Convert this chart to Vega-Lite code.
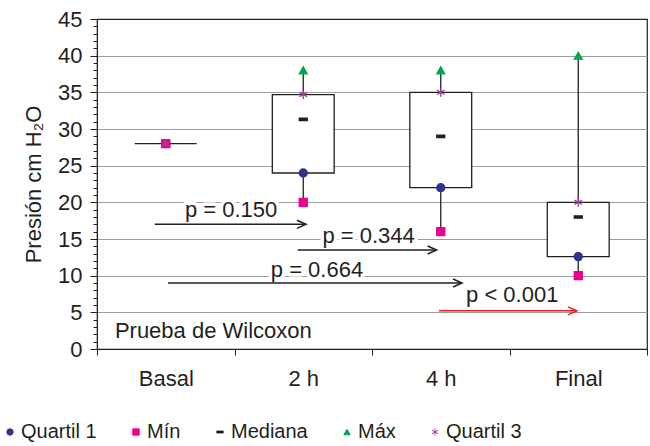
{
  "$schema": "https://vega.github.io/schema/vega-lite/v6.json",
  "width": 550,
  "height": 330,
  "autosize": {"type": "none"},
  "padding": {"left": 97, "top": 19, "right": 3, "bottom": 97},
  "background": "white",
  "datasets": {
    "stats": [
      {"cat": "Basal", "Mín": 28, "Quartil 1": 28, "Mediana": 28, "Quartil 3": 28, "Máx": 28},
      {"cat": "2 h", "Mín": 20, "Quartil 1": 24, "Mediana": 31.3, "Quartil 3": 34.7, "Máx": 38},
      {"cat": "4 h", "Mín": 16, "Quartil 1": 22, "Mediana": 29, "Quartil 3": 35, "Máx": 38},
      {"cat": "Final", "Mín": 10, "Quartil 1": 12.6, "Mediana": 18, "Quartil 3": 20, "Máx": 40}
    ],
    "tests": [
      {"label": "p = 0.150", "start": 0.42, "end": 1.52, "y": 17.0, "lx": 0.975, "ly": 18.0, "sig": "no"},
      {"label": "p = 0.344", "start": 1.46, "end": 2.47, "y": 13.5, "lx": 1.975, "ly": 14.4, "sig": "no"},
      {"label": "p = 0.664", "start": 0.516, "end": 2.655, "y": 9.0, "lx": 1.6, "ly": 9.8, "sig": "no"},
      {"label": "p < 0.001", "start": 2.487, "end": 3.49, "y": 5.2, "lx": 3.02, "ly": 6.45, "sig": "yes"}
    ],
    "note": [{"label": "Prueba de Wilcoxon", "lx": 0.13, "ly": 1.55}]
  },
  "config": {
    "font": "Liberation Sans",
    "view": {"stroke": "#231f20", "strokeWidth": 1.2},
    "axis": {
      "labelColor": "#231f20",
      "titleColor": "#231f20",
      "domainColor": "#231f20",
      "tickColor": "#231f20",
      "labelFont": "Liberation Sans",
      "titleFont": "Liberation Sans",
      "titleFontWeight": "normal"
    },
    "legend": {
      "orient": "none",
      "legendX": -97,
      "legendY": 403,
      "direction": "horizontal",
      "columns": 5,
      "columnPadding": 29,
      "labelFontSize": 20,
      "labelFont": "Liberation Sans",
      "labelColor": "#231f20",
      "symbolSize": 40,
      "labelOffset": 1,
      "padding": 0,
      "symbolStrokeWidth": 1
    }
  },
  "layer": [
    {
      "data": {"name": "stats"},
      "mark": {"type": "rule", "color": "#231f20", "strokeWidth": 1.3},
      "encoding": {
        "x": {
          "field": "cat", "type": "nominal",
          "sort": ["Basal", "2 h", "4 h", "Final"],
          "scale": {"domain": ["Basal", "2 h", "4 h", "Final"], "paddingInner": 0, "paddingOuter": 0},
          "axis": {
            "title": null,
            "tickBand": "extent",
            "tickSize": 6,
            "labelAngle": 0,
            "labelFontSize": 22,
            "labelPadding": 13,
            "grid": false
          }
        },
        "y": {
          "field": "Mín", "type": "quantitative",
          "title": "Presión cm H₂O",
          "scale": {"domain": [0, 45], "nice": false},
          "axis": {
            "values": [0,1,2,3,4,5,6,7,8,9,10,11,12,13,14,15,16,17,18,19,20,21,22,23,24,25,26,27,28,29,30,31,32,33,34,35,36,37,38,39,40,41,42,43,44,45],
            "labelExpr": "datum.value % 5 === 0 ? datum.label : ''",
            "labelOverlap": false,
            "tickSize": {"condition": {"test": "datum.value % 5 === 0", "value": 7}, "value": 4},
            "grid": true,
            "gridColor": "#9d9d9d",
            "gridWidth": 1.2,
            "gridOpacity": {"condition": {"test": "datum.value % 5 === 0 && datum.value > 0 && datum.value < 45", "value": 1}, "value": 0},
            "labelFontSize": 22,
            "labelPadding": 8,
            "titleFontSize": 22,
            "titlePadding": 12
          }
        },
        "y2": {"field": "Máx"}
      }
    },
    {
      "data": {"name": "stats"},
      "mark": {"type": "bar", "fill": "white", "stroke": "#231f20", "strokeWidth": 1.3, "width": {"band": 0.45}},
      "encoding": {
        "x": {"field": "cat", "type": "nominal", "sort": ["Basal", "2 h", "4 h", "Final"], "scale": {"domain": ["Basal", "2 h", "4 h", "Final"], "paddingInner": 0, "paddingOuter": 0}, "axis": null},
        "y": {
          "field": "Quartil 1", "type": "quantitative", "title": "Presión cm H₂O", "scale": {"domain": [0, 45], "nice": false},
          "axis": {
            "values": [0,1,2,3,4,5,6,7,8,9,10,11,12,13,14,15,16,17,18,19,20,21,22,23,24,25,26,27,28,29,30,31,32,33,34,35,36,37,38,39,40,41,42,43,44,45],
            "labelExpr": "datum.value % 5 === 0 ? datum.label : ''",
            "labelOverlap": false,
            "tickSize": {"condition": {"test": "datum.value % 5 === 0", "value": 7}, "value": 4},
            "grid": true,
            "gridColor": "#9d9d9d",
            "gridWidth": 1.2,
            "gridOpacity": {"condition": {"test": "datum.value % 5 === 0 && datum.value > 0 && datum.value < 45", "value": 1}, "value": 0},
            "labelFontSize": 22,
            "labelPadding": 8,
            "titleFontSize": 22,
            "titlePadding": 12
          }
        },
        "y2": {"field": "Quartil 3"}
      }
    },
    {
      "data": {"name": "stats"},
      "transform": [{"fold": ["Quartil 1", "Máx", "Mediana", "Mín", "Quartil 3"], "as": ["stat", "value"]}],
      "mark": {"type": "point", "filled": true, "size": 64, "strokeWidth": 1.3, "opacity": 1},
      "encoding": {
        "x": {"field": "cat", "type": "nominal", "sort": ["Basal", "2 h", "4 h", "Final"], "scale": {"domain": ["Basal", "2 h", "4 h", "Final"], "paddingInner": 0, "paddingOuter": 0}, "axis": null},
        "y": {
          "field": "value", "type": "quantitative", "title": "Presión cm H₂O", "scale": {"domain": [0, 45], "nice": false},
          "axis": {
            "values": [0,1,2,3,4,5,6,7,8,9,10,11,12,13,14,15,16,17,18,19,20,21,22,23,24,25,26,27,28,29,30,31,32,33,34,35,36,37,38,39,40,41,42,43,44,45],
            "labelExpr": "datum.value % 5 === 0 ? datum.label : ''",
            "labelOverlap": false,
            "tickSize": {"condition": {"test": "datum.value % 5 === 0", "value": 7}, "value": 4},
            "grid": true,
            "gridColor": "#9d9d9d",
            "gridWidth": 1.2,
            "gridOpacity": {"condition": {"test": "datum.value % 5 === 0 && datum.value > 0 && datum.value < 45", "value": 1}, "value": 0},
            "labelFontSize": 22,
            "labelPadding": 8,
            "titleFontSize": 22,
            "titlePadding": 12
          }
        },
        "shape": {
          "field": "stat", "type": "nominal",
          "scale": {
            "domain": ["Quartil 1", "Mín", "Mediana", "Máx", "Quartil 3"],
            "range": ["circle", "square", "M-1,-0.3L1,-0.3L1,0.3L-1,0.3Z", "triangle-up", "M0,-1.1L0,1.1M-0.95,-0.55L0.95,0.55M-0.95,0.55L0.95,-0.55"]
          },
          "legend": {"title": null}
        },
        "fill": {
          "field": "stat", "type": "nominal",
          "scale": {
            "domain": ["Quartil 1", "Mín", "Mediana", "Máx", "Quartil 3"],
            "range": ["#2e3192", "#ec008c", "#231f20", "#00a651", "#a3399b"]
          },
          "legend": {"title": null}
        },
        "stroke": {
          "field": "stat", "type": "nominal",
          "scale": {
            "domain": ["Quartil 1", "Mín", "Mediana", "Máx", "Quartil 3"],
            "range": ["#2e3192", "#ec008c", "#231f20", "#00a651", "#a3399b"]
          },
          "legend": {"title": null}
        }
      }
    },
    {
      "data": {"name": "tests"},
      "mark": {"type": "text", "fontSize": 22, "align": "center", "baseline": "alphabetic", "fill": "white", "stroke": "white", "strokeWidth": 7, "strokeJoin": "round"},
      "encoding": {
        "x": {"field": "lx", "type": "quantitative", "scale": {"domain": [0, 4], "nice": false, "zero": false}, "axis": null},
        "y": {
          "field": "ly", "type": "quantitative", "title": "Presión cm H₂O", "scale": {"domain": [0, 45], "nice": false},
          "axis": {
            "values": [0,1,2,3,4,5,6,7,8,9,10,11,12,13,14,15,16,17,18,19,20,21,22,23,24,25,26,27,28,29,30,31,32,33,34,35,36,37,38,39,40,41,42,43,44,45],
            "labelExpr": "datum.value % 5 === 0 ? datum.label : ''",
            "labelOverlap": false,
            "tickSize": {"condition": {"test": "datum.value % 5 === 0", "value": 7}, "value": 4},
            "grid": true,
            "gridColor": "#9d9d9d",
            "gridWidth": 1.2,
            "gridOpacity": {"condition": {"test": "datum.value % 5 === 0 && datum.value > 0 && datum.value < 45", "value": 1}, "value": 0},
            "labelFontSize": 22,
            "labelPadding": 8,
            "titleFontSize": 22,
            "titlePadding": 12
          }
        },
        "text": {"field": "label"}
      }
    },
    {
      "data": {"name": "tests"},
      "mark": {"type": "rule", "strokeWidth": 1.5},
      "encoding": {
        "x": {"field": "start", "type": "quantitative", "scale": {"domain": [0, 4], "nice": false, "zero": false}, "axis": null},
        "x2": {"field": "end"},
        "y": {
          "field": "y", "type": "quantitative", "title": "Presión cm H₂O", "scale": {"domain": [0, 45], "nice": false},
          "axis": {
            "values": [0,1,2,3,4,5,6,7,8,9,10,11,12,13,14,15,16,17,18,19,20,21,22,23,24,25,26,27,28,29,30,31,32,33,34,35,36,37,38,39,40,41,42,43,44,45],
            "labelExpr": "datum.value % 5 === 0 ? datum.label : ''",
            "labelOverlap": false,
            "tickSize": {"condition": {"test": "datum.value % 5 === 0", "value": 7}, "value": 4},
            "grid": true,
            "gridColor": "#9d9d9d",
            "gridWidth": 1.2,
            "gridOpacity": {"condition": {"test": "datum.value % 5 === 0 && datum.value > 0 && datum.value < 45", "value": 1}, "value": 0},
            "labelFontSize": 22,
            "labelPadding": 8,
            "titleFontSize": 22,
            "titlePadding": 12
          }
        },
        "color": {"field": "sig", "type": "nominal", "scale": {"domain": ["no", "yes"], "range": ["#231f20", "#ed1c24"]}, "legend": null}
      }
    },
    {
      "data": {"name": "tests"},
      "mark": {"type": "point", "shape": "M-1,-0.45L0,0L-1,0.45", "size": 324, "filled": false, "strokeWidth": 1.5, "opacity": 1},
      "encoding": {
        "x": {"field": "end", "type": "quantitative", "scale": {"domain": [0, 4], "nice": false, "zero": false}, "axis": null},
        "y": {
          "field": "y", "type": "quantitative", "title": "Presión cm H₂O", "scale": {"domain": [0, 45], "nice": false},
          "axis": {
            "values": [0,1,2,3,4,5,6,7,8,9,10,11,12,13,14,15,16,17,18,19,20,21,22,23,24,25,26,27,28,29,30,31,32,33,34,35,36,37,38,39,40,41,42,43,44,45],
            "labelExpr": "datum.value % 5 === 0 ? datum.label : ''",
            "labelOverlap": false,
            "tickSize": {"condition": {"test": "datum.value % 5 === 0", "value": 7}, "value": 4},
            "grid": true,
            "gridColor": "#9d9d9d",
            "gridWidth": 1.2,
            "gridOpacity": {"condition": {"test": "datum.value % 5 === 0 && datum.value > 0 && datum.value < 45", "value": 1}, "value": 0},
            "labelFontSize": 22,
            "labelPadding": 8,
            "titleFontSize": 22,
            "titlePadding": 12
          }
        },
        "color": {"field": "sig", "type": "nominal", "scale": {"domain": ["no", "yes"], "range": ["#231f20", "#ed1c24"]}, "legend": null}
      }
    },
    {
      "data": {"name": "tests"},
      "mark": {"type": "text", "fontSize": 22, "align": "center", "baseline": "alphabetic", "color": "#231f20"},
      "encoding": {
        "x": {"field": "lx", "type": "quantitative", "scale": {"domain": [0, 4], "nice": false, "zero": false}, "axis": null},
        "y": {
          "field": "ly", "type": "quantitative", "title": "Presión cm H₂O", "scale": {"domain": [0, 45], "nice": false},
          "axis": {
            "values": [0,1,2,3,4,5,6,7,8,9,10,11,12,13,14,15,16,17,18,19,20,21,22,23,24,25,26,27,28,29,30,31,32,33,34,35,36,37,38,39,40,41,42,43,44,45],
            "labelExpr": "datum.value % 5 === 0 ? datum.label : ''",
            "labelOverlap": false,
            "tickSize": {"condition": {"test": "datum.value % 5 === 0", "value": 7}, "value": 4},
            "grid": true,
            "gridColor": "#9d9d9d",
            "gridWidth": 1.2,
            "gridOpacity": {"condition": {"test": "datum.value % 5 === 0 && datum.value > 0 && datum.value < 45", "value": 1}, "value": 0},
            "labelFontSize": 22,
            "labelPadding": 8,
            "titleFontSize": 22,
            "titlePadding": 12
          }
        },
        "text": {"field": "label"}
      }
    },
    {
      "data": {"name": "note"},
      "mark": {"type": "text", "fontSize": 22, "align": "left", "baseline": "alphabetic", "color": "#231f20"},
      "encoding": {
        "x": {"field": "lx", "type": "quantitative", "scale": {"domain": [0, 4], "nice": false, "zero": false}, "axis": null},
        "y": {
          "field": "ly", "type": "quantitative", "title": "Presión cm H₂O", "scale": {"domain": [0, 45], "nice": false},
          "axis": {
            "values": [0,1,2,3,4,5,6,7,8,9,10,11,12,13,14,15,16,17,18,19,20,21,22,23,24,25,26,27,28,29,30,31,32,33,34,35,36,37,38,39,40,41,42,43,44,45],
            "labelExpr": "datum.value % 5 === 0 ? datum.label : ''",
            "labelOverlap": false,
            "tickSize": {"condition": {"test": "datum.value % 5 === 0", "value": 7}, "value": 4},
            "grid": true,
            "gridColor": "#9d9d9d",
            "gridWidth": 1.2,
            "gridOpacity": {"condition": {"test": "datum.value % 5 === 0 && datum.value > 0 && datum.value < 45", "value": 1}, "value": 0},
            "labelFontSize": 22,
            "labelPadding": 8,
            "titleFontSize": 22,
            "titlePadding": 12
          }
        },
        "text": {"field": "label"}
      }
    }
  ],
  "resolve": {"scale": {"x": "independent"}, "axis": {"x": "independent"}}
}
